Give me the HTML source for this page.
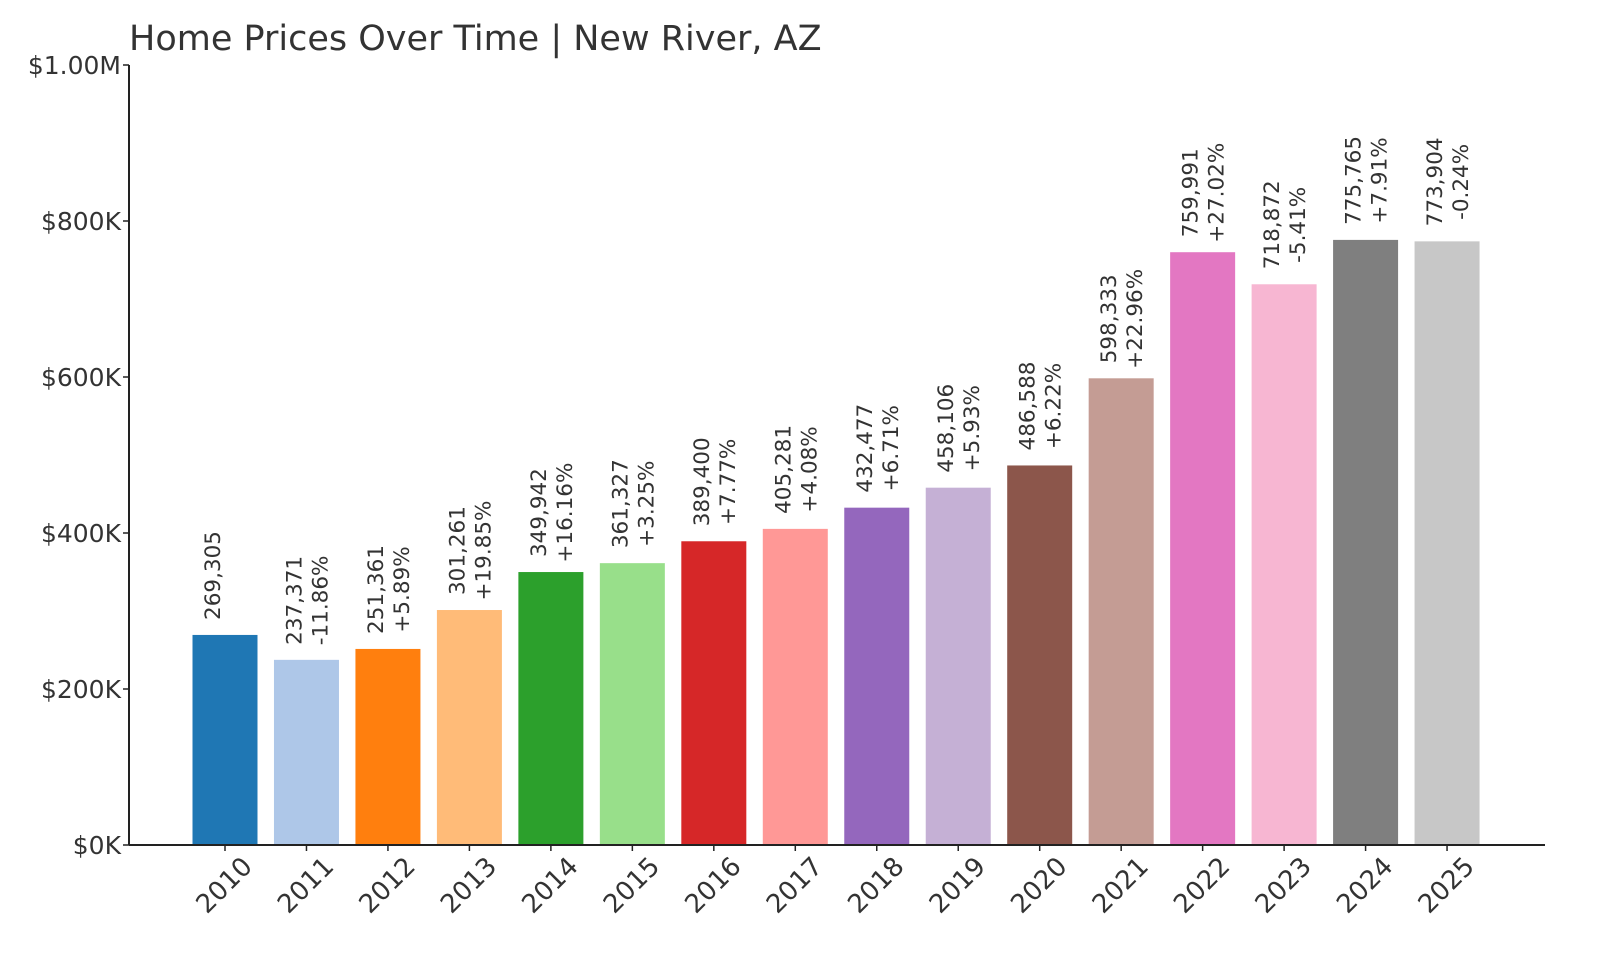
<!DOCTYPE html>
<html><head><meta charset="utf-8"><style>
html,body{margin:0;padding:0;background:#fff}
svg{display:block;font-family:"DejaVu Sans","Liberation Sans",sans-serif}
</style></head><body>
<svg id="chart" width="1600" height="960" viewBox="0 0 1600 960">
<text x="129" y="50" font-size="35" fill="#333">Home Prices Over Time | New River, AZ</text>
<g id="yaxis"></g>
<g id="bars"></g>
<g id="xaxis"></g>
</svg>
<script>
const years = ["2010","2011","2012","2013","2014","2015","2016","2017","2018","2019","2020","2021","2022","2023","2024","2025"];
const values = [269305,237371,251361,301261,349942,361327,389400,405281,432477,458106,486588,598333,759991,718872,775765,773904];
const pctLabels = ["","-11.86%","+5.89%","+19.85%","+16.16%","+3.25%","+7.77%","+4.08%","+6.71%","+5.93%","+6.22%","+22.96%","+27.02%","-5.41%","+7.91%","-0.24%"];
const yTicks = [0,200000,400000,600000,800000,1000000];
const yTickLabels = ["$0K","$200K","$400K","$600K","$800K","$1.00M"];
const colors = ["#1f77b4","#aec7e8","#ff7f0e","#ffbb78","#2ca02c","#98df8a","#d62728","#ff9896","#9467bd","#c5b0d5","#8c564b","#c49c94","#e377c2","#f7b6d2","#7f7f7f","#c7c7c7"];

const NS="http://www.w3.org/2000/svg";
const x0=129, x1=1545, yBase=845, yTop=65;
const y = v => yBase - (v/1000000)*(yBase-yTop);
const firstC=225, step=81.47, bw=65;
const xc = i => firstC + i*step;
function mk(tag, attrs, parent){const e=document.createElementNS(NS,tag);for(const k in attrs)e.setAttribute(k,attrs[k]);parent.appendChild(e);return e;}

const ya=document.getElementById('yaxis');
const yl=mk('line',{x1:x0,y1:yTop,x2:x0,y2:yBase,stroke:'#222','stroke-width':2},ya);


yTicks.forEach((t,i)=>{
  const tk=mk('line',{x1:x0-6,y1:y(t),x2:x0,y2:y(t),stroke:'#222','stroke-width':1.5},ya);
  
  
  const tx=mk('text',{x:x0-8,y:y(t)+9,'text-anchor':'end','font-size':25,fill:'#333'},ya);
  tx.textContent=yTickLabels[i];
  
  
});

const xa=document.getElementById('xaxis');
const xl=mk('line',{x1:x0,y1:yBase,x2:x1,y2:yBase,stroke:'#222','stroke-width':2},xa);



const bg=document.getElementById('bars');
years.forEach((yr,i)=>{
  const c=xc(i), top=y(values[i]);
  const r=mk('rect',{x:c-bw/2,y:top,width:bw,height:yBase-top,fill:colors[i]},bg);
  
  
  const t1=mk('text',{transform:`translate(${c-5},${top-15}) rotate(-90)`,'font-size':21.5,fill:'#333'},bg);
  t1.textContent=values[i].toLocaleString('en-US');
  
  
  if(pctLabels[i]){
    const w=t1.getComputedTextLength();
    const t2=mk('text',{transform:`translate(${c+21},${top-15-w/2}) rotate(-90)`,'font-size':21.5,fill:'#333','text-anchor':'middle'},bg);
    t2.textContent=pctLabels[i];
    
    
  }
  const tk=mk('line',{x1:c,y1:yBase,x2:c,y2:yBase+6,stroke:'#222','stroke-width':1.5},xa);
  
  
  const lb=mk('text',{transform:`translate(${c},${886}) rotate(-45)`,'font-size':26,fill:'#333','text-anchor':'middle','dominant-baseline':'middle'},xa);
  lb.textContent=yr;
  
  
});
</script>
</body></html>
